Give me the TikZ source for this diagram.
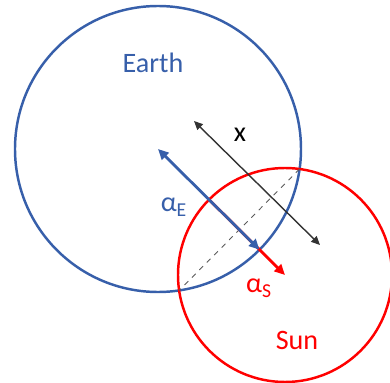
\documentclass[tikz,border=0pt]{standalone}
\usepackage{fontspec}
\setmainfont{Carlito}
\usetikzlibrary{arrows.meta, calc, intersections}
\definecolor{earthblue}{RGB}{55,95,170}

\begin{document}
\begin{tikzpicture}[x=0.02cm,y=0.02cm,
  lbl/.style={font=\fontsize{16}{19}\selectfont},
  tip/.style={-{Triangle[length=6pt,width=5.5pt]}},
  tips/.style={{Triangle[length=6pt,width=5.5pt]}-{Triangle[length=6pt,width=5.5pt]}}]
  \useasboundingbox (0,0) rectangle (390,383);
  \coordinate (E) at (158,234); \coordinate (S) at (285,108);
  \draw[earthblue,line width=1.4pt,name path=earth](E) circle(143);
  \draw[red,line width=1.4pt,name path=sun](S) circle(107);
  \path[name intersections={of=earth and sun,name=i}];
  \draw[gray!70!black,dashed,line width=0.5pt](i-1)--(i-2);
  % distance x
  \coordinate (xa) at (194,262); \coordinate (xb) at (320,138);
  \draw[black!80,line width=0.8pt,{Triangle[length=5pt,width=4.5pt]}-{Triangle[length=5pt,width=4.5pt]}](xa)--(xb);
  % alpha arrows
  \draw[red,line width=1.6pt,tip]($(S)!2.14cm!(E)$)--(S);
  \draw[earthblue,line width=1.6pt,tips](E)--($(E)!2.86cm!(S)$);
  \node[lbl,earthblue] (earth) at (153,320){Earth};
  \node[lbl,red] (sun) at (297,43){Sun};
  \node[lbl] (xl) at (240,248){x};
  \node[lbl,earthblue] (ae) at (174,176){α\textsubscript{E}};
  \node[lbl,red] (as) at (259,95){α\textsubscript{S}};
\end{tikzpicture}
\end{document}
